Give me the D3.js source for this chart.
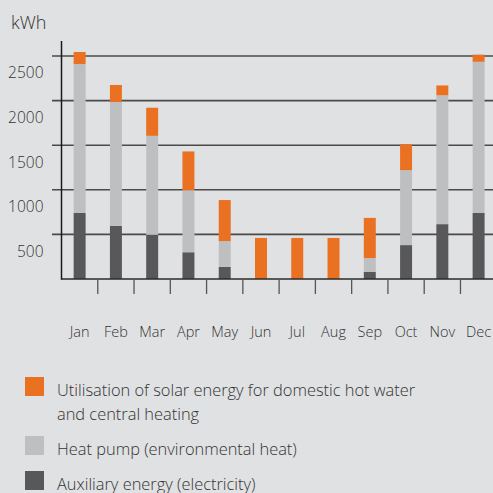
<!DOCTYPE html>
<html>
<head>
<meta charset="utf-8">
<script src="https://cdn.jsdelivr.net/npm/d3@7/dist/d3.min.js"></script>
<style>
  html, body { margin: 0; padding: 0; background: #e0e1e2; }
  svg { display: block; }
  text { font-family: "Open Sans", sans-serif; font-weight: 300; fill: #333; }
</style>
</head>
<body>
<svg id="chart" width="493" height="493"></svg>
<script>
// Monthly energy balance (kWh)
const months = ["Jan", "Feb", "Mar", "Apr", "May", "Jun", "Jul", "Aug", "Sep", "Oct", "Nov", "Dec"];
const auxiliary = [740, 595, 495, 300, 135, 0, 0, 0, 80, 380, 615, 740];
const heatPump = [1670, 1390, 1110, 695, 290, 0, 0, 0, 155, 840, 1445, 1695];
const solar = [135, 190, 315, 435, 460, 460, 460, 460, 450, 290, 110, 80];
const yTicks = [500, 1000, 1500, 2000, 2500];

const seriesKeys = ["auxiliary", "heatPump", "solar"];
const seriesColors = { auxiliary: "#58585a", heatPump: "#bebfc0", solar: "#ea7022" };
const legendItems = [
  { key: "solar", lines: ["Utilisation of solar energy for domestic hot water", "and central heating"] },
  { key: "heatPump", lines: ["Heat pump (environmental heat)"] },
  { key: "auxiliary", lines: ["Auxiliary energy (electricity)"] }
];

const rows = months.map((m, i) => ({ month: m, auxiliary: auxiliary[i], heatPump: heatPump[i], solar: solar[i] }));
const stacked = d3.stack().keys(seriesKeys)(rows);

const svg = d3.select("#chart");
const axisX = 61.5, baseY = 279, topY = 56, width = 493;

const x = d3.scaleBand()
  .domain(months)
  .range([axisX, axisX + 12 * 36.27])
  .paddingInner(0.67)
  .paddingOuter(0.335);

const y = d3.scaleLinear().domain([0, 2500]).range([baseY, topY]);

// horizontal grid lines
svg.append("g").selectAll("line")
  .data(yTicks).join("line")
  .attr("x1", 52).attr("x2", width)
  .attr("y1", d => y(d)).attr("y2", d => y(d))
  .attr("stroke", "#4a4a4a").attr("stroke-width", 1.6);

// y tick labels
svg.append("g").selectAll("text")
  .data(yTicks).join("text")
  .attr("x", 43.5).attr("y", d => y(d) + 17)
  .attr("dy", "0.35em")
  .attr("text-anchor", "end")
  .attr("font-size", 15.5)
  .text(d => d);

svg.append("text")
  .attr("x", 11).attr("y", 29)
  .attr("font-size", 18)
  .text("kWh");

// stacked bars
svg.append("g").selectAll("g")
  .data(stacked).join("g")
  .attr("fill", d => seriesColors[d.key])
  .selectAll("rect")
  .data(d => d.filter(s => s[1] > s[0])).join("rect")
  .attr("x", d => x(d.data.month))
  .attr("width", x.bandwidth())
  .attr("y", d => y(d[1]))
  .attr("height", d => y(d[0]) - y(d[1]));

// axes lines
svg.append("line")
  .attr("x1", axisX).attr("x2", axisX)
  .attr("y1", 41).attr("y2", baseY + 0.8)
  .attr("stroke", "#1a1a1a").attr("stroke-width", 1.5);
svg.append("line")
  .attr("x1", axisX).attr("x2", width)
  .attr("y1", baseY).attr("y2", baseY)
  .attr("stroke", "#2a2a2a").attr("stroke-width", 1.6);

// category separators below the axis
svg.append("g").selectAll("line")
  .data(months.slice(1)).join("line")
  .attr("x1", d => x(d) + x.bandwidth() / 2 - x.step() / 2)
  .attr("x2", d => x(d) + x.bandwidth() / 2 - x.step() / 2)
  .attr("y1", baseY).attr("y2", 294)
  .attr("stroke", "#555").attr("stroke-width", 1.3);

// month labels
svg.append("g").selectAll("text")
  .data(months).join("text")
  .attr("x", d => x(d) + x.bandwidth() / 2)
  .attr("y", 337)
  .attr("text-anchor", "middle")
  .attr("font-size", 14.5)
  .text(d => d);

// legend
const legendTop = [377, 436, 471];
const lg = svg.append("g").selectAll("g")
  .data(legendItems).join("g")
  .attr("transform", (d, i) => `translate(25,${legendTop[i]})`);
lg.append("rect")
  .attr("width", 19).attr("height", 19)
  .attr("fill", d => seriesColors[d.key]);
lg.append("text")
  .attr("x", 32)
  .attr("font-size", 16.4)
  .selectAll("tspan")
  .data(d => d.lines).join("tspan")
  .attr("x", 32)
  .attr("y", (d, i) => 19 + i * 24)
  .text(d => d);
</script>
</body>
</html>
